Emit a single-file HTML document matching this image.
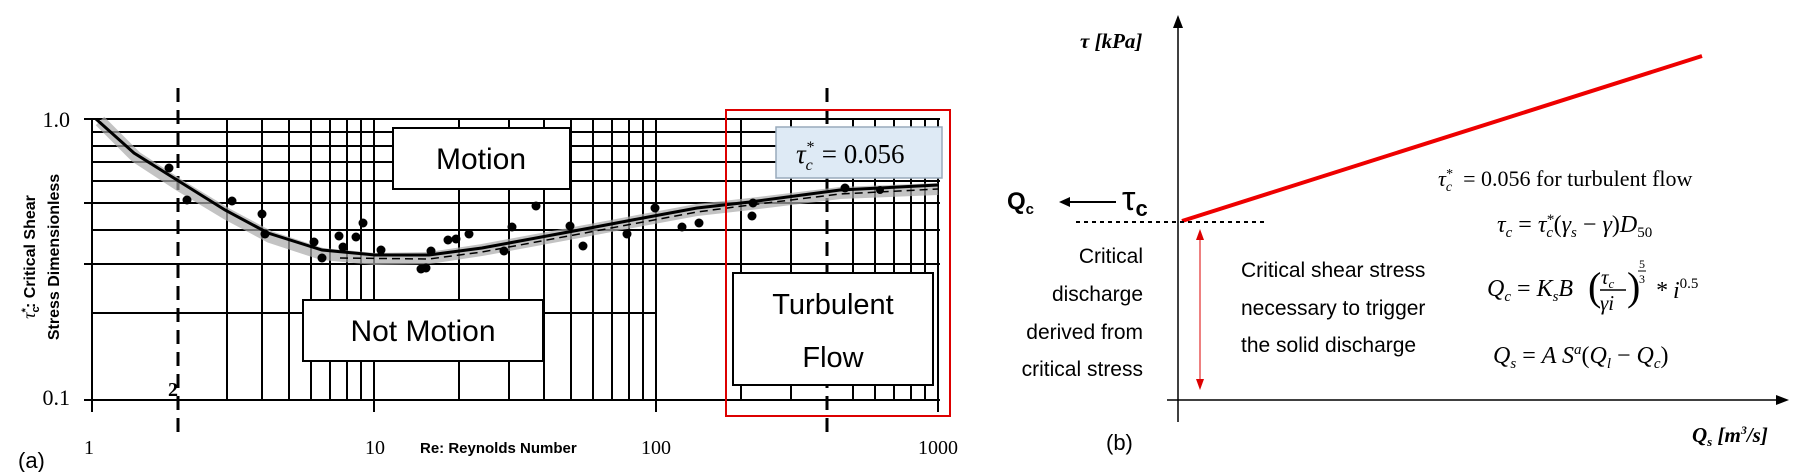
<!DOCTYPE html>
<html><head><meta charset="utf-8"><style>
html,body{margin:0;padding:0;background:#fff}
svg{display:block}
.s{font-family:"Liberation Serif",serif}
.n{font-family:"Liberation Sans Narrow","Liberation Sans",sans-serif}
.b{font-family:"Liberation Sans",sans-serif;font-weight:bold}
.i{font-family:"Liberation Serif",serif;font-style:italic}
</style></head><body>
<svg width="1801" height="472" viewBox="0 0 1801 472" xmlns="http://www.w3.org/2000/svg">
<g stroke="#000" stroke-width="2">
<line x1="84" y1="119" x2="940" y2="119"/>
<line x1="92" y1="132" x2="940" y2="132"/>
<line x1="92" y1="146" x2="940" y2="146"/>
<line x1="92" y1="162" x2="940" y2="162"/>
<line x1="92" y1="181" x2="940" y2="181"/>
<line x1="84" y1="203" x2="940" y2="203"/>
<line x1="92" y1="230" x2="940" y2="230"/>
<line x1="84" y1="264" x2="940" y2="264"/>
<line x1="92" y1="313" x2="656" y2="313"/>
<line x1="84" y1="400" x2="940" y2="400"/>
<line x1="92" y1="119" x2="92" y2="412"/>
<line x1="227" y1="119" x2="227" y2="400"/><line x1="262" y1="119" x2="262" y2="400"/>
<line x1="289" y1="119" x2="289" y2="400"/><line x1="311" y1="119" x2="311" y2="400"/>
<line x1="330" y1="119" x2="330" y2="400"/><line x1="347" y1="119" x2="347" y2="400"/>
<line x1="361" y1="119" x2="361" y2="400"/><line x1="374" y1="119" x2="374" y2="412"/>
<line x1="459" y1="119" x2="459" y2="400"/><line x1="509" y1="119" x2="509" y2="400"/>
<line x1="544" y1="119" x2="544" y2="400"/><line x1="571" y1="119" x2="571" y2="400"/>
<line x1="593" y1="119" x2="593" y2="400"/><line x1="612" y1="119" x2="612" y2="400"/>
<line x1="629" y1="119" x2="629" y2="400"/><line x1="643" y1="119" x2="643" y2="400"/>
<line x1="656" y1="119" x2="656" y2="412"/>
<line x1="741" y1="119" x2="741" y2="400"/><line x1="791" y1="119" x2="791" y2="400"/>
<line x1="853" y1="119" x2="853" y2="400"/><line x1="875" y1="119" x2="875" y2="400"/>
<line x1="894" y1="119" x2="894" y2="400"/><line x1="911" y1="119" x2="911" y2="400"/>
<line x1="925" y1="119" x2="925" y2="400"/><line x1="938" y1="119" x2="938" y2="412"/>
</g>
<g stroke="#000" stroke-width="3" stroke-dasharray="14,8">
<line x1="178" y1="88" x2="178" y2="434"/>
<line x1="827" y1="88" x2="827" y2="434"/>
</g>
<path d="M100,121 L136,157 L179,185 L227,214 L270,237 L322,254 L375,259 L429,258 L482,250 L536,240 L590,230 L643,220 L697,210 L750,204 L840,193 L938,189" fill="none" stroke="#aaa" stroke-width="12" opacity="0.7"/>
<path d="M96,119 L134,153 L177,180 L225,210 L268,233 L322,250 L375,255 L429,255 L482,248 L536,238 L590,228 L643,218 L697,208 L750,202 L840,190 L938,185" fill="none" stroke="#000" stroke-width="3"/>
<path d="M340,258 L429,259 L482,252 L536,242 L590,232 L643,222 L697,212 L750,205 L840,194 L938,189" fill="none" stroke="#000" stroke-width="1.5" stroke-dasharray="8,5"/>
<g fill="#000">
<circle cx="169" cy="168" r="4.5"/><circle cx="187" cy="200" r="4.5"/><circle cx="232" cy="201" r="4.5"/>
<circle cx="262" cy="214" r="4.5"/><circle cx="265" cy="234" r="4.5"/><circle cx="314" cy="242" r="4.5"/>
<circle cx="322" cy="258" r="4.5"/><circle cx="339" cy="236" r="4.5"/><circle cx="343" cy="247" r="4.5"/>
<circle cx="356" cy="237" r="4.5"/><circle cx="363" cy="223" r="4.5"/><circle cx="381" cy="250" r="4.5"/>
<circle cx="421" cy="269" r="4.5"/><circle cx="426" cy="268" r="4.5"/><circle cx="431" cy="251" r="4.5"/>
<circle cx="448" cy="240" r="4.5"/><circle cx="456" cy="239" r="4.5"/><circle cx="469" cy="234" r="4.5"/>
<circle cx="504" cy="251" r="4.5"/><circle cx="512" cy="227" r="4.5"/><circle cx="536" cy="206" r="4.5"/>
<circle cx="570" cy="226" r="4.5"/><circle cx="583" cy="246" r="4.5"/><circle cx="627" cy="234" r="4.5"/>
<circle cx="655" cy="208" r="4.5"/><circle cx="682" cy="227" r="4.5"/><circle cx="699" cy="223" r="4.5"/>
<circle cx="753" cy="203" r="4.5"/><circle cx="752" cy="216" r="4.5"/><circle cx="845" cy="188" r="4.5"/>
<circle cx="880" cy="190" r="4"/>
</g>
<rect x="393" y="128" width="177" height="61" fill="#fff" stroke="#000" stroke-width="2"/>
<text x="481" y="169" class="n" font-size="30" text-anchor="middle">Motion</text>
<rect x="303" y="300" width="240" height="61" fill="#fff" stroke="#000" stroke-width="2"/>
<text x="423" y="341" class="n" font-size="30" text-anchor="middle">Not Motion</text>
<rect x="726" y="110" width="224" height="306" fill="none" stroke="#d00" stroke-width="2"/>
<rect x="776" y="127" width="166" height="51" fill="#deeaf5" stroke="#9ab" stroke-width="1.5"/>
<text x="796" y="163" class="i" font-size="27">τ<tspan font-size="16" dy="7">c</tspan><tspan font-size="16" dx="-7" dy="-18">*</tspan><tspan font-style="normal" dy="11" dx="8">= 0.056</tspan></text>
<rect x="733" y="273" width="200" height="112" fill="#fff" stroke="#000" stroke-width="2"/>
<text x="833" y="314" class="n" font-size="29" text-anchor="middle">Turbulent</text>
<text x="833" y="367" class="n" font-size="29" text-anchor="middle">Flow</text>
<text x="70" y="127" class="s" font-size="22" text-anchor="end">1.0</text>
<text x="70" y="405" class="s" font-size="22" text-anchor="end">0.1</text>
<text x="168" y="396" class="s" font-size="20" font-weight="bold">2</text>
<text x="89" y="454" class="s" font-size="20" text-anchor="middle">1</text>
<text x="375" y="454" class="s" font-size="20" text-anchor="middle">10</text>
<text x="656" y="454" class="s" font-size="20" text-anchor="middle">100</text>
<text x="938" y="454" class="s" font-size="20" text-anchor="middle">1000</text>
<text x="420" y="453" class="b" font-size="15">Re: Reynolds Number</text>
<text x="18" y="468" font-family="Liberation Sans,sans-serif" font-size="22">(a)</text>
<text transform="translate(35,257) rotate(-90)" class="b" font-size="16" text-anchor="middle"><tspan class="i" font-weight="normal" font-size="18">τ</tspan><tspan font-size="11" dy="4">c</tspan><tspan font-size="11" dx="-6" dy="-10">*</tspan><tspan dy="6">: Critical Shear</tspan></text>
<text transform="translate(59,257) rotate(-90)" class="b" font-size="16" text-anchor="middle">Stress Dimensionless</text>

<line x1="1178" y1="422" x2="1178" y2="26" stroke="#000" stroke-width="1.5"/>
<polygon points="1178,15 1173,28 1183,28" fill="#000"/>
<line x1="1167" y1="400" x2="1778" y2="400" stroke="#000" stroke-width="1.5"/>
<polygon points="1789,400 1776,395 1776,405" fill="#000"/>
<line x1="1182" y1="221" x2="1702" y2="56" stroke="#e00" stroke-width="4"/>
<line x1="1076" y1="222" x2="1265" y2="222" stroke="#000" stroke-width="2" stroke-dasharray="4,4"/>
<line x1="1200" y1="236" x2="1200" y2="383" stroke="#d00" stroke-width="1"/>
<polygon points="1200,229 1196,240 1204,240" fill="#d00"/>
<polygon points="1200,390 1196,379 1204,379" fill="#d00"/>
<text x="1080" y="48" class="i" font-size="21" font-weight="bold">τ [kPa]</text>
<text x="1007" y="209" class="b" font-size="24">Q<tspan font-size="15" dy="5">c</tspan></text>
<line x1="1066" y1="202" x2="1116" y2="202" stroke="#000" stroke-width="2"/>
<polygon points="1059,202 1070,197 1070,207" fill="#000"/>
<text x="1122" y="210" font-family="Liberation Sans,sans-serif" font-size="34">τ<tspan font-size="22" dy="6" font-weight="bold">c</tspan></text>
<g class="n" font-size="21" text-anchor="end">
<text x="1143" y="263">Critical</text>
<text x="1143" y="301">discharge</text>
<text x="1143" y="339">derived from</text>
<text x="1143" y="376">critical stress</text>
</g>
<g class="n" font-size="21">
<text x="1241" y="277">Critical shear stress</text>
<text x="1241" y="315">necessary to trigger</text>
<text x="1241" y="352">the solid discharge</text>
</g>
<text x="1438" y="186" class="s" font-size="22"><tspan class="i">τ</tspan><tspan class="i" font-size="14" dy="5">c</tspan><tspan font-size="14" dx="-6" dy="-13">*</tspan><tspan dy="8" dx="10">= 0.056 for turbulent flow</tspan></text>
<text x="1497" y="232" class="i" font-size="24">τ<tspan font-size="15" dy="5">c</tspan><tspan font-style="normal" dy="-5"> = </tspan>τ<tspan font-size="15" dy="5">c</tspan><tspan font-size="15" dx="-7" dy="-13">*</tspan><tspan dy="8" font-style="normal">(</tspan>γ<tspan font-size="15" dy="5">s</tspan><tspan dy="-5" font-style="normal"> − </tspan>γ<tspan font-style="normal">)</tspan>D<tspan font-size="15" dy="5" font-style="normal">50</tspan></text>
<text x="1487" y="296" class="i" font-size="24">Q<tspan font-size="15" dy="5">c</tspan><tspan font-style="normal" dy="-5"> = </tspan>K<tspan font-size="15" dy="5">s</tspan><tspan dy="-5">B</tspan></text>
<text x="1588" y="300" class="s" font-size="40">(</text>
<text x="1601" y="284" class="i" font-size="21">τ<tspan font-size="13" dy="4">c</tspan></text>
<line x1="1600" y1="290" x2="1626" y2="290" stroke="#000" stroke-width="1.5"/>
<text x="1600" y="310" class="i" font-size="21">γi</text>
<text x="1627" y="300" class="s" font-size="40">)</text>
<text x="1639" y="268" class="s" font-size="12">5</text>
<line x1="1638" y1="271" x2="1646" y2="271" stroke="#000" stroke-width="1"/>
<text x="1639" y="283" class="s" font-size="12">3</text>
<text x="1655" y="298" class="i" font-size="24">* i<tspan font-size="15" dy="-10" font-style="normal">0.5</tspan></text>
<text x="1493" y="363" class="i" font-size="24">Q<tspan font-size="15" dy="5">s</tspan><tspan font-style="normal" dy="-5"> = </tspan>A S<tspan font-size="15" dy="-9">a</tspan><tspan font-style="normal" dy="9">(</tspan>Q<tspan font-size="15" dy="5">l</tspan><tspan font-style="normal" dy="-5"> − </tspan>Q<tspan font-size="15" dy="5">c</tspan><tspan font-style="normal" dy="-5">)</tspan></text>
<text x="1692" y="442" class="i" font-size="21" font-weight="bold">Q<tspan font-size="13" dy="4">s</tspan><tspan dy="-4"> [m</tspan><tspan font-size="12" dy="-8">3</tspan><tspan dy="8">/s]</tspan></text>
<text x="1106" y="450" font-family="Liberation Sans,sans-serif" font-size="22">(b)</text>
</svg>
</body></html>
